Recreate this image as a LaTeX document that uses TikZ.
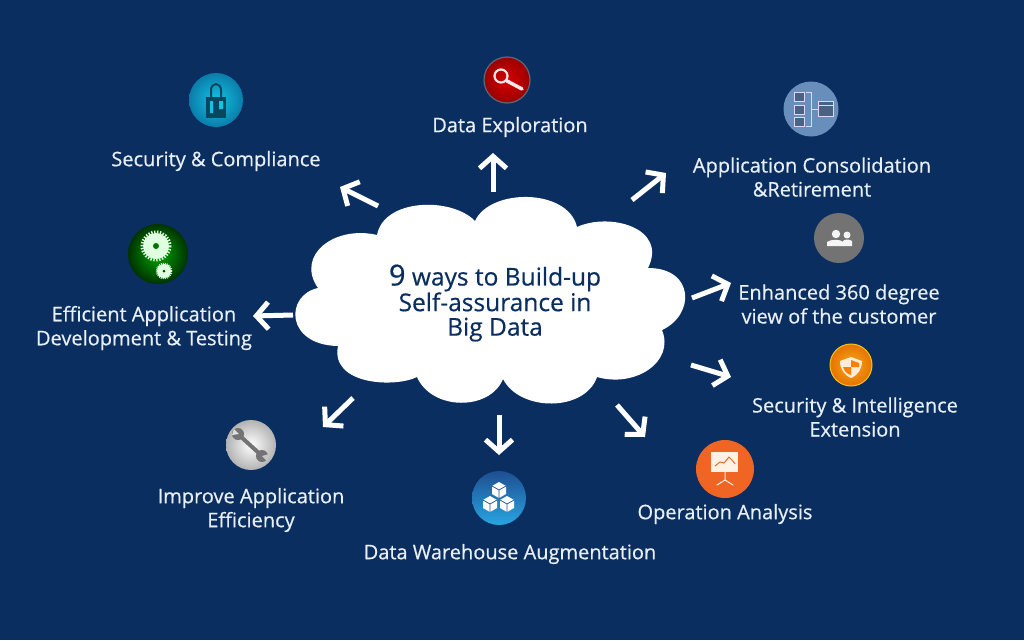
\documentclass[tikz,border=0pt]{standalone}
\usepackage{fontspec}
\setmainfont{Open Sans}[RawFeature={embolden=0.5}]
\usetikzlibrary{arrows.meta}
\definecolor{waysnavy}{RGB}{11,46,97}
\definecolor{waystext}{RGB}{232,239,246}
\definecolor{waysorange}{RGB}{241,101,36}
\definecolor{waysamber}{RGB}{247,170,25}
\definecolor{lockhi}{RGB}{20,195,228}
\definecolor{locklo}{RGB}{10,125,170}
\definecolor{lockdark}{RGB}{8,70,95}
\definecolor{appsblue}{RGB}{104,143,187}
\definecolor{cubetop}{RGB}{30,78,145}
\definecolor{cubelow}{RGB}{40,165,225}

\begin{document}
\begin{tikzpicture}[
    x=1pt, y=-1pt,
    icon/.style={circle, draw=none, inner sep=0pt},
    waytext/.style={align=center, text=waystext, inner sep=0pt, font=\fontsize{20}{24}\selectfont},
    wayarrow/.style={white, line width=5pt, -{Straight Barb[length=12pt, width=27pt, line width=5pt]}}
]
\useasboundingbox[fill=waysnavy] (0,0) rectangle (1024,640);

% cloud
\fill[white] (377,235) .. controls (384,198) and (452,197) .. (475,221)
    .. controls (490,188) and (568,188) .. (577,227)
    .. controls (610,212) and (668,228) .. (648,268)
    .. controls (695,268) and (695,315) .. (662,330)
    .. controls (675,362) and (635,388) .. (597,377)
    .. controls (585,412) and (520,412) .. (503,379)
    .. controls (490,411) and (432,411) .. (417,377)
    .. controls (395,388) and (330,385) .. (338,346)
    .. controls (285,345) and (285,295) .. (318,288)
    .. controls (295,255) and (335,225) .. (377,235) -- cycle;
\node[align=center, text=waysnavy, inner sep=0pt, font=\fontsize{24.5}{24.5}\selectfont] (title) at (495,303)
    {{\fontsize{29}{24.5}\selectfont 9} ways to Build-up\\Self-assurance in\\Big Data};

% labels
\node[waytext] (explore) at (510,127) {Data Exploration};
\node[waytext] (secure) at (216,161) {Security \& Compliance};
\node[waytext] (consol) at (812,177) {Application Consolidation\\\&Retirement};
\node[waytext] (view) at (839,304) {Enhanced 360 degree\\view of the customer};
\node[waytext] (intel) at (855,417) {Security \& Intelligence\\Extension};
\node[waytext] (oper) at (725,514) {Operation Analysis};
\node[waytext] (ware) at (510,554) {Data Warehouse Augmentation};
\node[waytext] (improve) at (251,510) {Improve Application\\Efficiency};
\node[waytext] (devel) at (144,328) {Efficient Application\\Development \& Testing};

% arrows
\foreach \n/\xa/\ya/\xb/\yb in {up/493/192/493/153, ne/632/200/666/173, ea/692/298/731/283,
    se/691/365/731/377, so/617/405/645/437, dn/499/415/499/455,
    sw/353/398/323/427, we/293/315/253/316, nw/378/206/340/187}{
    \coordinate (\n a) at (\xa,\ya);
    \coordinate (\n b) at (\xb,\yb);
    \draw[wayarrow] (\n a) -- (\n b);
}

% lock
\node[icon, minimum size=54pt, shade, inner color=lockhi, outer color=locklo] (lock) at (216,100) {};
\begin{scope}[shift={(lock.center)}]
    \draw[lockdark, line width=2pt] (-5,-2) -- (-5,-10) arc[start angle=180, end angle=0, x radius=5, y radius=-6] -- (5,-2);
    \fill[lockdark] (-10,-3) rectangle (10,18);
    \fill[lockhi] (-6,1) rectangle (-3,13) (3,1) rectangle (7,9);
\end{scope}

% magnifier
\node[icon, minimum size=46pt, draw=gray!70!waysnavy, line width=1.2pt, shade, inner color=red!85!black, outer color=red!60!black] (lens) at (507,80) {};
\begin{scope}[shift={(lens.center)}]
    \draw[white!90!red, line width=2.2pt] (-6,-4) circle (6.5);
    \draw[white!90!red, line width=3.5pt, line cap=round] (0,1) -- (15,9);
\end{scope}

% consolidation
\node[icon, minimum size=55pt, fill=appsblue] (apps) at (811,109) {};
\begin{scope}[shift={(apps.center)}, draw=white!85!blue, line width=1pt]
    \foreach \y in {-17,-4,8}{
        \draw[fill=appsblue!70!black] (-17,\y) rectangle (-7,\y+9);
    }
    \draw (-5,-17) -- (0,-17) -- (0,17) -- (-5,17) (0,0) -- (7,0);
    \draw[fill=appsblue!70!black] (7,-8) rectangle (22,7);
    \draw (7,-4) -- (22,-4);
\end{scope}

% people
\node[icon, minimum size=50pt, fill=gray!90!black] (group) at (839,238) {};
\begin{scope}[shift={(group.center)}, fill=white!92!gray]
    \fill (8,-3) circle (3.5);
    \fill (4,8) -- (4,3) .. controls (6,1) and (10,1) .. (13,3) -- (13,8) -- cycle;
    \fill (-3,-4) circle (4.2);
    \fill (-12,8) -- (-12,4) .. controls (-8,1) and (1,1) .. (4.5,4) -- (4.5,8) -- cycle;
\end{scope}

% shield
\node[icon, minimum size=42pt, draw=waysamber!70!yellow, line width=1pt, shade, inner color=waysamber, outer color=orange!90!black] (shield) at (851,365) {};
\begin{scope}[shift={(shield.center)}]
    \fill[white!85!orange] (0,-8) -- (11,-4) .. controls (11,4) and (7,10) .. (0,13) .. controls (-7,10) and (-11,4) .. (-11,-4) -- cycle;
    \fill[orange] (0,-5) -- (8,-2) -- (8,2) -- (0,2) -- cycle;
    \fill[orange] (0,2) -- (-8,2) .. controls (-7,6) and (-4,9) .. (0,10) -- cycle;
\end{scope}

% board
\node[icon, minimum size=58pt, fill=waysorange] (board) at (725,469) {};
\begin{scope}[shift={(board.center)}]
    \draw[white!90!orange, line width=1pt, line cap=round] (0,3) -- (0,11) -- (-8,16) (0,11) -- (8,16);
    \fill[white!90!orange] (-14,-17) rectangle (13,3);
    \draw[waysorange!70!brown, line width=1pt] (-10,-3) -- (-5,-7) -- (-1,-6) -- (4,-12) -- (7,-9) -- (10,-5);
\end{scope}

% cubes
\node[icon, minimum size=54pt, shade, top color=cubetop, bottom color=cubelow] (cubes) at (499,498) {};
\begin{scope}[shift={(cubes.center)}]
    \foreach \x/\y in {0/-8, -9/6, 8/6}{
        \fill[white] (\x,\y-8) -- (\x+7,\y-4) -- (\x+7,\y+4) -- (\x,\y+8) -- (\x-7,\y+4) -- (\x-7,\y-4) -- cycle;
        \draw[cubetop, line width=.7pt] (\x-7,\y-4) -- (\x,\y) -- (\x+7,\y-4) (\x,\y) -- (\x,\y+8);
    }
\end{scope}

% wrench
\node[icon, minimum size=50pt, shade, inner color=white, outer color=gray!60] (wrench) at (251,445) {};
\begin{scope}[shift={(wrench.center)}]
    \draw[black!55, line width=4pt] (-12,-10) -- (10,10);
    \fill[black!55] (-13,-11) circle (6) (11,11) circle (6);
    \fill[gray!25] (-17,-16) -- (-12,-11) -- (-19,-10) -- cycle;
    \fill[gray!45] (16,16) -- (11,11) -- (18,9) -- cycle;
\end{scope}

% gears
\node[icon, minimum size=60pt, shade, inner color=green!65!black, outer color=green!20!black] (gears) at (158,254) {};
\begin{scope}[shift={(gears.center)}]
    \fill[white!88!green] (-2,-8) circle (13);
    \draw[white!88!green, line width=3pt, dash pattern=on 1.4pt off 1.5pt] (-2,-8) circle (14);
    \fill[green!45!black] (-2,-8) circle (3);
    \fill[white!88!green] (6,17) circle (7);
    \draw[white!88!green, line width=1.5pt, dash pattern=on 1pt off 1pt] (6,17) circle (7.5);
    \fill[green!30!black] (6,17) circle (1.5);
\end{scope}
\end{tikzpicture}
\end{document}
